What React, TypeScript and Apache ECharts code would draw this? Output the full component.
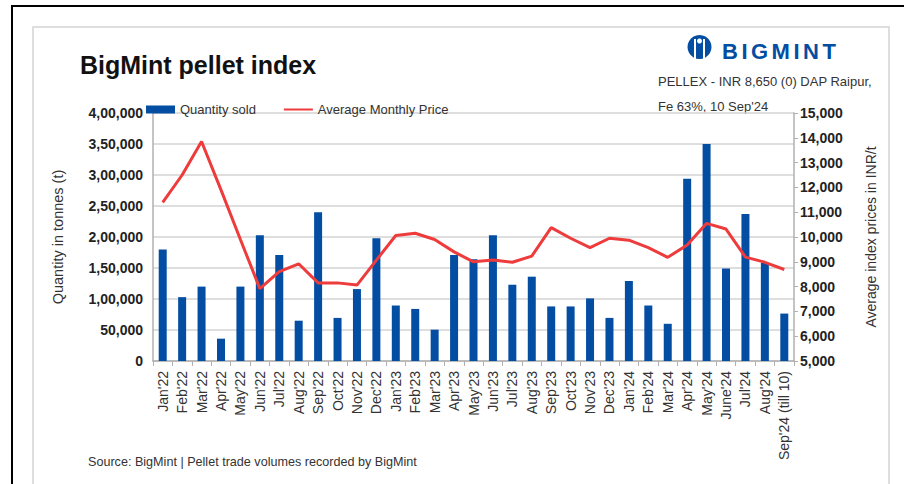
import React, { useEffect, useRef } from "react";
import * as echarts from "echarts";

const categories = [
  "Jan'22", "Feb'22", "Mar'22", "Apr'22", "May'22", "Jun'22", "Jul'22", "Aug'22", "Sep'22", "Oct'22", "Nov'22", "Dec'22",
  "Jan'23", "Feb'23", "Mar'23", "Apr'23", "May'23", "Jun'23", "Jul'23", "Aug'23", "Sep'23", "Oct'23", "Nov'23", "Dec'23",
  "Jan'24", "Feb'24", "Mar'24", "Apr'24", "May'24", "June'24", "Jul'24", "Aug'24", "Sep'24 (till 10)",
];

const quantitySold = [
  180000, 103000, 120000, 36000, 120000, 203000, 171000, 65000, 240000, 69500, 116000, 198000,
  89500, 84000, 50500, 171000, 164000, 203000, 123000, 136000, 88000, 88000, 101000, 69500,
  129000, 89500, 60000, 294000, 350000, 149000, 237000, 158000, 76500,
];

const avgMonthlyPrice = [
  11400, 12500, 13850, 11900, 9900, 7920, 8600, 8920, 8150, 8150, 8060, 9070,
  10060, 10150, 9900, 9400, 9000, 9070, 8980, 9230, 10380, 9950, 9570, 9950,
  9870, 9570, 9180, 9680, 10550, 10320, 9190, 8980, 8690,
];

const logoLetters = ["B", "I", "G", "M", "I", "N", "T"];
const logoLetterX = [722, 741.5, 751, 771.5, 793.5, 803, 822.5];

const BLUE = "#034ea2";
const RED = "#ee3b3b";
const FONT = "'Liberation Sans', Arial, sans-serif";

function indian(v: number): string {
  const s = String(Math.round(v));
  if (s.length <= 3) return s;
  const last3 = s.slice(-3);
  const rest = s.slice(0, -3).replace(/\B(?=(\d{2})+(?!\d))/g, ",");
  return rest + "," + last3;
}

function western(v: number): string {
  return String(Math.round(v)).replace(/\B(?=(\d{3})+(?!\d))/g, ",");
}

export default function App() {
  const ref = useRef<HTMLDivElement>(null);

  useEffect(() => {
    document.body.style.margin = "0";
    const chart = echarts.init(ref.current!, undefined, { renderer: "svg" });

    const logoGraphics: any[] = logoLetters.map((l, i) => ({
      type: "text",
      x: logoLetterX[i],
      y: 51,
      style: { text: l, fill: BLUE, font: `bold 22px ${FONT}`, verticalAlign: "middle", align: "left" },
    }));

    chart.setOption({
      animation: false,
      backgroundColor: "#fff",
      textStyle: { fontFamily: FONT },
      grid: { left: 153, right: 110, top: 113, bottom: 123 },
      legend: {
        left: 141,
        top: 98,
        itemWidth: 29,
        itemHeight: 8,
        itemGap: 27,
        textStyle: { fontSize: 13, color: "#333", fontFamily: FONT },
        data: [
          { name: "Quantity sold", icon: "rect" },
          { name: "Average Monthly Price", itemStyle: { opacity: 0 } },
        ],
      },
      graphic: [
        { type: "rect", shape: { x: 12, y: 6, width: 1000, height: 1000 }, style: { fill: "none", stroke: "#000", lineWidth: 2 } },
        { type: "rect", shape: { x: 33, y: 27, width: 856, height: 1000 }, style: { fill: "none", stroke: "#d4d4d4", lineWidth: 1.5 } },
        {
          type: "text", left: 80, top: 52,
          style: { text: "BigMint pellet index", fill: "#111", font: `bold 25px ${FONT}` },
        },
        {
          type: "text", left: 658, top: 75,
          style: { text: "PELLEX - INR 8,650 (0) DAP Raipur,", fill: "#333", font: `13px ${FONT}` },
        },
        {
          type: "text", left: 658, top: 100,
          style: { text: "Fe 63%, 10 Sep'24", fill: "#333", font: `13px ${FONT}` },
        },
        {
          type: "text", left: 88, top: 455,
          style: { text: "Source: BigMint | Pellet trade volumes recorded by BigMint", fill: "#333", font: `12.6px ${FONT}` },
        },
        { type: "circle", shape: { cx: 699.5, cy: 47, r: 12 }, style: { fill: BLUE } },
        { type: "rect", shape: { x: 694, y: 39, width: 2, height: 22 }, style: { fill: "#fff" } },
        { type: "rect", shape: { x: 703, y: 39, width: 2, height: 22 }, style: { fill: "#fff" } },
        { type: "circle", shape: { cx: 699.5, cy: 41, r: 2.5 }, style: { fill: "#fff" } },
        ...logoGraphics,
      ],
      xAxis: {
        type: "category",
        data: categories,
        boundaryGap: true,
        axisLine: { lineStyle: { color: "#b0b0b0", width: 1.5 } },
        axisTick: { show: true, length: 5, lineStyle: { color: "#b0b0b0" } },
        axisLabel: { rotate: 90, interval: 0, fontSize: 14, color: "#333", margin: 10, fontFamily: FONT },
      },
      yAxis: [
        {
          type: "value",
          min: 0,
          max: 400000,
          interval: 50000,
          name: "Quantity in tonnes (t)",
          nameLocation: "middle",
          nameRotate: 90,
          nameGap: 88,
          nameTextStyle: { fontSize: 14.5, color: "#333", fontFamily: FONT },
          axisLine: { show: true, lineStyle: { color: "#b0b0b0", width: 1.5 } },
          axisTick: { show: false },
          axisLabel: { formatter: (v: number) => indian(v), fontSize: 14, fontWeight: "bold", color: "#222", margin: 10, fontFamily: FONT },
          splitLine: { show: true, lineStyle: { color: "#d3d3d3", width: 1.5 } },
        },
        {
          type: "value",
          min: 5000,
          max: 15000,
          interval: 1000,
          position: "right",
          name: "Average index prices in INR/t",
          nameLocation: "middle",
          nameRotate: 90,
          nameGap: 70,
          nameTextStyle: { fontSize: 14, color: "#333", fontFamily: FONT },
          axisLine: { show: true, lineStyle: { color: "#b0b0b0", width: 1.5 } },
          axisTick: { show: true, length: 4, lineStyle: { color: "#b0b0b0" } },
          axisLabel: { formatter: (v: number) => western(v), fontSize: 14, fontWeight: "bold", color: "#222", margin: 6, fontFamily: FONT },
          splitLine: { show: false },
        },
      ],
      series: [
        {
          name: "Quantity sold",
          type: "bar",
          yAxisIndex: 0,
          data: quantitySold,
          barWidth: 8,
          itemStyle: { color: BLUE },
        },
        {
          name: "Average Monthly Price",
          type: "line",
          yAxisIndex: 1,
          data: avgMonthlyPrice,
          symbol: "none",
          lineStyle: { color: RED, width: 3 },
          itemStyle: { color: RED },
        },
      ],
    });

    return () => chart.dispose();
  }, []);

  return <div ref={ref} style={{ width: 904, height: 484 }} />;
}
